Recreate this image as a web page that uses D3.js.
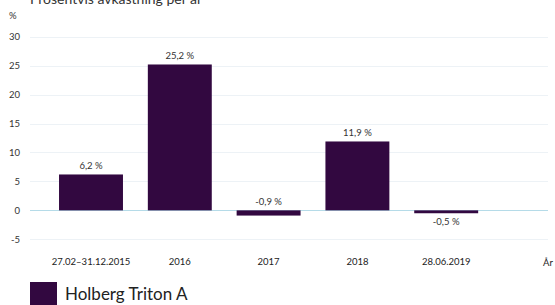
<!DOCTYPE html>
<html><head><meta charset="utf-8">
<script src="https://cdn.jsdelivr.net/npm/d3@7"></script>
<style>
html,body{margin:0;padding:0;background:#fff;}
svg{display:block;font-family:Lato,"Open Sans",sans-serif;}
</style></head>
<body><svg id="c" width="555" height="305"></svg>
<script>
const categories = ["27.02–31.12.2015","2016","2017","2018","28.06.2019"];
const values = [6.2, 25.2, -0.9, 11.9, -0.5];
const valueLabels = ["6,2 %","25,2 %","-0,9 %","11,9 %","-0,5 %"];
const yTicks = [-5, 0, 5, 10, 15, 20, 25, 30];
const seriesName = "Holberg Triton A";
const title = "Prosentvis avkastning per år";

const svg = d3.select("#c");
const barColor = "#320840";
const y = d3.scaleLinear().domain([-5, 30]).range([239.3, 36.7]);
const x = d3.scaleBand().domain(categories).range([46.6, 490.6]).paddingInner(0.28).paddingOuter(0.14);

svg.append("text").attr("x", 30).attr("y", 4).attr("font-size", 14).attr("fill", "#333").text(title);
svg.append("text").attr("x", 9).attr("y", 19).attr("font-size", 9.5).attr("fill", "#333").text("%");

const grid = svg.append("g");
grid.selectAll("line").data(yTicks).join("line")
  .attr("x1", 30).attr("x2", 548)
  .attr("y1", d => Math.round(y(d)) + 0.5).attr("y2", d => Math.round(y(d)) + 0.5)
  .attr("stroke", d => d === 0 ? "#b5dbe8" : "#edf2f6").attr("stroke-width", 1);

const yAxis = d3.axisLeft(y).tickValues(yTicks).tickSize(0).tickPadding(0).tickFormat(d => d < 0 ? "-" + Math.abs(d) : d);
const ya = svg.append("g").attr("transform", "translate(20,0)").call(yAxis);
ya.select(".domain").remove();
ya.selectAll("text").attr("font-size", 9.5).attr("fill", "#333").attr("font-family", "Lato,sans-serif");

svg.append("g").selectAll("rect").data(values).join("rect")
  .attr("x", (d, i) => x(categories[i]))
  .attr("width", x.bandwidth())
  .attr("y", d => y(Math.max(0, d)))
  .attr("height", d => Math.abs(y(d) - y(0)))
  .attr("fill", barColor);

svg.append("g").selectAll("text").data(values).join("text")
  .attr("x", (d, i) => x(categories[i]) + x.bandwidth() / 2)
  .attr("y", (d, i) => i === values.length - 1 ? y(d) + 12 : y(Math.max(0, d)) - 5)
  .attr("text-anchor", "middle").attr("font-size", 9.5).attr("fill", "#333")
  .text((d, i) => valueLabels[i]);

const xAxis = d3.axisBottom(x).tickSize(0).tickPadding(0);
const xa = svg.append("g").attr("transform", "translate(0,258)").call(xAxis);
xa.select(".domain").remove();
xa.selectAll("text").attr("font-size", 9.5).attr("fill", "#222").attr("font-family", "Lato,sans-serif");

svg.append("text").attr("x", 543).attr("y", 265.5).attr("font-size", 9.5).attr("fill", "#222").text("År");

svg.append("rect").attr("x", 30).attr("y", 282).attr("width", 27).attr("height", 27).attr("fill", barColor);
svg.append("text").attr("x", 65).attr("y", 300).attr("font-size", 17).attr("fill", "#222").text(seriesName);
</script></body></html>
